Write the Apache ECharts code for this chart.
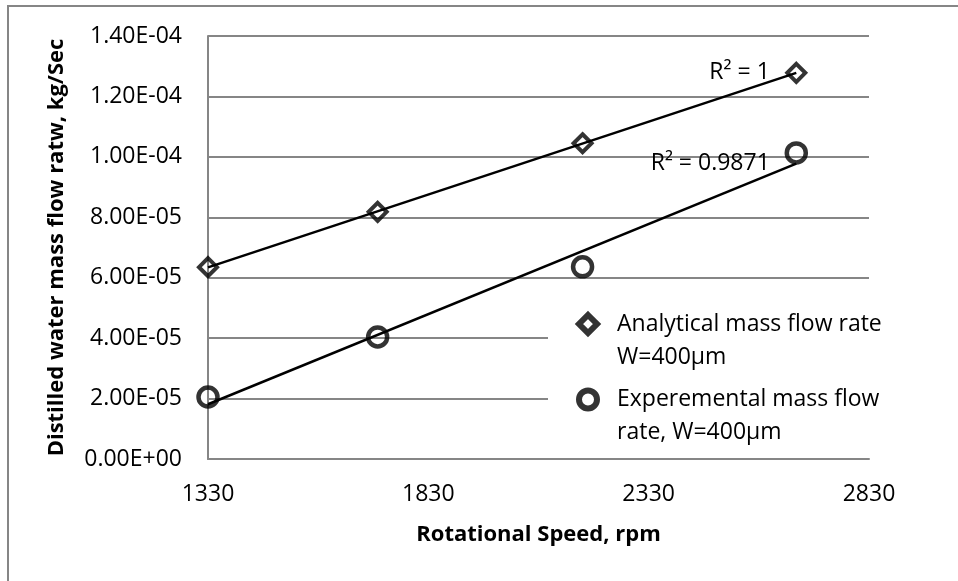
<!DOCTYPE html>
<html>
<head>
<meta charset="utf-8">
<script src="https://cdn.jsdelivr.net/npm/echarts@6/dist/echarts.min.js"></script>
<style>
html,body{margin:0;padding:0;background:#fff;}
#chart{width:958px;height:581px;}
</style>
</head>
<body>
<div id="chart"></div>
<script>
// ---- data ----
const rpm = [1330, 1715, 2180, 2665];
const analytical = [6.35e-5, 8.18e-5, 1.045e-4, 1.278e-4];
const experimental = [2.05e-5, 4.04e-5, 6.36e-5, 1.013e-4];
const xTickValues = [1330, 1830, 2330, 2830];
const seriesNames = ['Analytical mass flow rate\nW=400\u00b5m', 'Experemental mass flow\nrate, W=400\u00b5m'];
const r2Labels = ['R\u00b2 = 1', 'R\u00b2 = 0.9871'];
const xTitle = 'Rotational Speed, rpm';
const yTitle = 'Distilled water mass flow ratw, kg/Sec';

const FONT = 'Open Sans';
const GRID = '#868686';
const FS = 23;

function fit(xs, ys) {
  const n = xs.length;
  const mx = xs.reduce((a, b) => a + b, 0) / n;
  const my = ys.reduce((a, b) => a + b, 0) / n;
  let sxy = 0, sxx = 0;
  for (let i = 0; i < n; i++) { sxy += (xs[i] - mx) * (ys[i] - my); sxx += (xs[i] - mx) * (xs[i] - mx); }
  const b = sxy / sxx, a = my - b * mx;
  return x => a + b * x;
}
function trend(ys, label) {
  const f = fit(rpm, ys);
  const x0 = rpm[0], x1 = rpm[rpm.length - 1];
  return [[x0, f(x0)], {value: [x1, f(x1)], label: {show: true, formatter: label}}];
}
function sci(v) {
  const s = v.toExponential(2).split('e');
  const e = parseInt(s[1], 10);
  return s[0] + 'E' + (e < 0 ? '-' : '+') + String(Math.abs(e)).padStart(2, '0');
}
function legendFmt(name) {
  return '{s| }\n' + name.split('\n').map(l => '{t|' + l + '}').join('\n');
}

const chart = echarts.init(document.getElementById('chart'), null, {renderer: 'canvas'});
const legendText = {
  fontFamily: FONT, fontSize: FS, color: '#000',
  rich: {
    s: {fontFamily: FONT, fontSize: FS, lineHeight: 33},
    t: {fontFamily: FONT, fontSize: FS, lineHeight: 33, color: '#000', padding: [0, 0, 0, 15]}
  }
};
const legendIcon = {borderWidth: 6, borderColor: '#000', color: '#fff'};
const trendLabel = {show: false, position: 'left', distance: 26, fontFamily: FONT, fontSize: FS, color: '#000'};
chart.setOption({
  animation: false,
  backgroundColor: '#fff',
  textStyle: {fontFamily: FONT},
  grid: {left: 208, right: 89, top: 36, bottom: 122, containLabel: false},
  xAxis: {
    type: 'value', min: 1330, max: 2830,
    name: xTitle, nameLocation: 'middle', nameGap: 65,
    nameTextStyle: {fontFamily: FONT, fontSize: 22, fontWeight: 'bold', color: '#000'},
    axisLine: {show: true, lineStyle: {color: GRID, width: 2}},
    axisTick: {show: false},
    splitLine: {show: false},
    axisLabel: {customValues: xTickValues, formatter: v => String(v), fontFamily: FONT, fontSize: FS, color: '#000', margin: 24}
  },
  yAxis: {
    type: 'value', min: 0, max: 1.4e-4, interval: 2e-5,
    name: yTitle, nameLocation: 'middle', nameGap: 140,
    nameTextStyle: {fontFamily: FONT, fontSize: 22, fontWeight: 'bold', color: '#000'},
    axisLine: {show: true, lineStyle: {color: GRID, width: 2}},
    axisTick: {show: false},
    splitLine: {show: true, lineStyle: {color: GRID, width: 2}},
    axisLabel: {formatter: sci, fontFamily: FONT, fontSize: FS, color: '#000', margin: 26}
  },
  legend: [
    {left: 576, top: 279.5, padding: 0, itemWidth: 18, itemHeight: 18, selectedMode: false, formatter: legendFmt,
     data: [{name: seriesNames[0], itemStyle: legendIcon}], textStyle: legendText},
    {left: 576, top: 355, padding: 0, itemWidth: 18, itemHeight: 18, selectedMode: false, formatter: legendFmt,
     data: [{name: seriesNames[1], itemStyle: legendIcon}], textStyle: legendText}
  ],
  graphic: [
    {type: 'rect', z: 3, silent: true, shape: {x: 548, y: 288, width: 330, height: 160}, style: {fill: '#fff'}},
    {type: 'rect', z: 0, silent: true, shape: {x: 8, y: 6, width: 1000, height: 1000}, style: {fill: null, stroke: GRID, lineWidth: 2}}
  ],
  series: [
    {name: seriesNames[0], type: 'scatter', symbol: 'diamond', symbolSize: 18,
     itemStyle: {color: 'rgba(0,0,0,0)', borderColor: '#000', borderWidth: 4},
     data: rpm.map((x, i) => [x, analytical[i]]), z: 2},
    {name: seriesNames[1], type: 'scatter', symbol: 'circle', symbolSize: 19,
     itemStyle: {color: 'rgba(0,0,0,0)', borderColor: '#000', borderWidth: 4.5},
     data: rpm.map((x, i) => [x, experimental[i]]), z: 2},
    {name: 'trendA', type: 'line', showSymbol: true, symbol: 'circle', symbolSize: 1, z: 2,
     itemStyle: {color: 'rgba(0,0,0,0)'},
     lineStyle: {color: '#000', width: 2.5},
     label: trendLabel,
     data: trend(analytical, r2Labels[0])},
    {name: 'trendE', type: 'line', showSymbol: true, symbol: 'circle', symbolSize: 1, z: 2,
     itemStyle: {color: 'rgba(0,0,0,0)'},
     lineStyle: {color: '#000', width: 2.5},
     label: trendLabel,
     data: trend(experimental, r2Labels[1])}
  ]
});
</script>
</body>
</html>
